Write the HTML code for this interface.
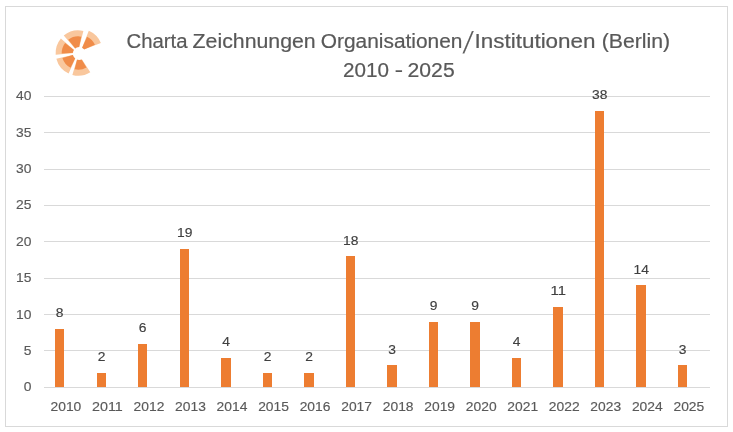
<!DOCTYPE html>
<html lang="de"><head><meta charset="utf-8"><title>Charta Zeichnungen</title>
<style>
html,body{margin:0;padding:0;background:#fff;}
body{width:733px;height:432px;overflow:hidden;}
svg{display:block;font-family:"Liberation Sans",sans-serif;}
.ax{fill:#595959;font-size:13px;stroke:#595959;stroke-width:.15px;}
.dl{fill:#404040;font-size:13px;stroke:#404040;stroke-width:.15px;}
.ti{fill:#595959;font-size:20px;stroke:#595959;stroke-width:.2px;}
.t2{fill:#595959;font-size:20.5px;stroke:#595959;stroke-width:.2px;}
</style></head><body>
<svg width="733" height="432" viewBox="0 0 733 432">
<rect x="0" y="0" width="733" height="432" fill="#ffffff"/>
<rect x="5.5" y="6.5" width="722" height="420" fill="none" stroke="#d9d9d9" stroke-width="1"/>

<line x1="44" x2="710" y1="387.5" y2="387.5" stroke="#d9d9d9" stroke-width="1"/>
<line x1="44" x2="710" y1="350.5" y2="350.5" stroke="#d9d9d9" stroke-width="1"/>
<line x1="44" x2="710" y1="314.5" y2="314.5" stroke="#d9d9d9" stroke-width="1"/>
<line x1="44" x2="710" y1="278.5" y2="278.5" stroke="#d9d9d9" stroke-width="1"/>
<line x1="44" x2="710" y1="241.5" y2="241.5" stroke="#d9d9d9" stroke-width="1"/>
<line x1="44" x2="710" y1="205.5" y2="205.5" stroke="#d9d9d9" stroke-width="1"/>
<line x1="44" x2="710" y1="169.5" y2="169.5" stroke="#d9d9d9" stroke-width="1"/>
<line x1="44" x2="710" y1="132.5" y2="132.5" stroke="#d9d9d9" stroke-width="1"/>
<line x1="44" x2="710" y1="96.5" y2="96.5" stroke="#d9d9d9" stroke-width="1"/>
<rect x="55" y="329" width="9" height="58" fill="#ed7d31" shape-rendering="crispEdges"/>
<rect x="97" y="373" width="9" height="14" fill="#ed7d31" shape-rendering="crispEdges"/>
<rect x="138" y="344" width="9" height="43" fill="#ed7d31" shape-rendering="crispEdges"/>
<rect x="180" y="249" width="9" height="138" fill="#ed7d31" shape-rendering="crispEdges"/>
<rect x="221" y="358" width="10" height="29" fill="#ed7d31" shape-rendering="crispEdges"/>
<rect x="263" y="373" width="9" height="14" fill="#ed7d31" shape-rendering="crispEdges"/>
<rect x="304" y="373" width="10" height="14" fill="#ed7d31" shape-rendering="crispEdges"/>
<rect x="346" y="256" width="9" height="131" fill="#ed7d31" shape-rendering="crispEdges"/>
<rect x="387" y="365" width="10" height="22" fill="#ed7d31" shape-rendering="crispEdges"/>
<rect x="429" y="322" width="9" height="65" fill="#ed7d31" shape-rendering="crispEdges"/>
<rect x="470" y="322" width="10" height="65" fill="#ed7d31" shape-rendering="crispEdges"/>
<rect x="512" y="358" width="9" height="29" fill="#ed7d31" shape-rendering="crispEdges"/>
<rect x="553" y="307" width="10" height="80" fill="#ed7d31" shape-rendering="crispEdges"/>
<rect x="595" y="111" width="9" height="276" fill="#ed7d31" shape-rendering="crispEdges"/>
<rect x="636" y="285" width="10" height="102" fill="#ed7d31" shape-rendering="crispEdges"/>
<rect x="678" y="365" width="9" height="22" fill="#ed7d31" shape-rendering="crispEdges"/>
<text class="ti" y="48.10"><tspan x="126.54" textLength="61.02" lengthAdjust="spacingAndGlyphs">Charta</tspan> <tspan x="192.60" textLength="123.12" lengthAdjust="spacingAndGlyphs">Zeichnungen</tspan> <tspan x="320.69" textLength="141.78" lengthAdjust="spacingAndGlyphs">Organisationen</tspan> <tspan x="474.47" textLength="121.13" lengthAdjust="spacingAndGlyphs">Institutionen</tspan> <tspan x="601.75" textLength="68.43" lengthAdjust="spacingAndGlyphs">(Berlin)</tspan></text>
<text class="t2" y="77.30"><tspan x="342.94" textLength="45.96" lengthAdjust="spacingAndGlyphs">2010</tspan> <tspan x="394.71" textLength="8.29" lengthAdjust="spacingAndGlyphs">-</tspan> <tspan x="407.57" textLength="47.09" lengthAdjust="spacingAndGlyphs">2025</tspan></text>
<text class="ax" x="23.70" y="391.00" textLength="7.70" lengthAdjust="spacingAndGlyphs">0</text>
<text class="ax" x="23.70" y="355.00" textLength="7.70" lengthAdjust="spacingAndGlyphs">5</text>
<text class="ax" x="16.00" y="319.00" textLength="15.40" lengthAdjust="spacingAndGlyphs">10</text>
<text class="ax" x="16.00" y="282.00" textLength="15.40" lengthAdjust="spacingAndGlyphs">15</text>
<text class="ax" x="16.00" y="246.00" textLength="15.40" lengthAdjust="spacingAndGlyphs">20</text>
<text class="ax" x="16.00" y="209.00" textLength="15.40" lengthAdjust="spacingAndGlyphs">25</text>
<text class="ax" x="16.00" y="173.00" textLength="15.40" lengthAdjust="spacingAndGlyphs">30</text>
<text class="ax" x="16.00" y="137.00" textLength="15.40" lengthAdjust="spacingAndGlyphs">35</text>
<text class="ax" x="16.00" y="100.00" textLength="15.40" lengthAdjust="spacingAndGlyphs">40</text>
<text class="ax" x="50.50" y="411.00" textLength="30.80" lengthAdjust="spacingAndGlyphs">2010</text>
<text class="dl" x="55.85" y="317.00" textLength="7.70" lengthAdjust="spacingAndGlyphs">8</text>
<text class="ax" x="92.03" y="411.00" textLength="30.80" lengthAdjust="spacingAndGlyphs">2011</text>
<text class="dl" x="97.85" y="361.00" textLength="7.70" lengthAdjust="spacingAndGlyphs">2</text>
<text class="ax" x="133.56" y="411.00" textLength="30.80" lengthAdjust="spacingAndGlyphs">2012</text>
<text class="dl" x="138.85" y="332.00" textLength="7.70" lengthAdjust="spacingAndGlyphs">6</text>
<text class="ax" x="175.09" y="411.00" textLength="30.80" lengthAdjust="spacingAndGlyphs">2013</text>
<text class="dl" x="177.00" y="237.00" textLength="15.40" lengthAdjust="spacingAndGlyphs">19</text>
<text class="ax" x="216.62" y="411.00" textLength="30.80" lengthAdjust="spacingAndGlyphs">2014</text>
<text class="dl" x="222.35" y="346.00" textLength="7.70" lengthAdjust="spacingAndGlyphs">4</text>
<text class="ax" x="258.15" y="411.00" textLength="30.80" lengthAdjust="spacingAndGlyphs">2015</text>
<text class="dl" x="263.85" y="361.00" textLength="7.70" lengthAdjust="spacingAndGlyphs">2</text>
<text class="ax" x="299.68" y="411.00" textLength="30.80" lengthAdjust="spacingAndGlyphs">2016</text>
<text class="dl" x="305.35" y="361.00" textLength="7.70" lengthAdjust="spacingAndGlyphs">2</text>
<text class="ax" x="341.21" y="411.00" textLength="30.80" lengthAdjust="spacingAndGlyphs">2017</text>
<text class="dl" x="343.00" y="245.00" textLength="15.40" lengthAdjust="spacingAndGlyphs">18</text>
<text class="ax" x="382.74" y="411.00" textLength="30.80" lengthAdjust="spacingAndGlyphs">2018</text>
<text class="dl" x="388.35" y="354.00" textLength="7.70" lengthAdjust="spacingAndGlyphs">3</text>
<text class="ax" x="424.27" y="411.00" textLength="30.80" lengthAdjust="spacingAndGlyphs">2019</text>
<text class="dl" x="429.85" y="310.00" textLength="7.70" lengthAdjust="spacingAndGlyphs">9</text>
<text class="ax" x="465.80" y="411.00" textLength="30.80" lengthAdjust="spacingAndGlyphs">2020</text>
<text class="dl" x="471.35" y="310.00" textLength="7.70" lengthAdjust="spacingAndGlyphs">9</text>
<text class="ax" x="507.33" y="411.00" textLength="30.80" lengthAdjust="spacingAndGlyphs">2021</text>
<text class="dl" x="512.85" y="346.00" textLength="7.70" lengthAdjust="spacingAndGlyphs">4</text>
<text class="ax" x="548.86" y="411.00" textLength="30.80" lengthAdjust="spacingAndGlyphs">2022</text>
<text class="dl" x="550.50" y="295.00" textLength="15.40" lengthAdjust="spacingAndGlyphs">11</text>
<text class="ax" x="590.39" y="411.00" textLength="30.80" lengthAdjust="spacingAndGlyphs">2023</text>
<text class="dl" x="592.00" y="99.00" textLength="15.40" lengthAdjust="spacingAndGlyphs">38</text>
<text class="ax" x="631.92" y="411.00" textLength="30.80" lengthAdjust="spacingAndGlyphs">2024</text>
<text class="dl" x="633.50" y="274.00" textLength="15.40" lengthAdjust="spacingAndGlyphs">14</text>
<text class="ax" x="673.45" y="411.00" textLength="30.80" lengthAdjust="spacingAndGlyphs">2025</text>
<text class="dl" x="678.85" y="354.00" textLength="7.70" lengthAdjust="spacingAndGlyphs">3</text>
<text class="ti" x="468.25" y="49.25" text-anchor="middle" transform="translate(468.25,42.1) skewX(-13.6) scale(1,1.5) translate(-468.25,-42.1)">/</text>
<defs><filter id="bl" x="-20%" y="-20%" width="140%" height="140%"><feGaussianBlur stdDeviation="0.6"/></filter></defs>
<g filter="url(#bl)">
<path d="M83.43,49.76L100.87,42.94A22.7,22.7 0 0 0 88.80,30.76L81.83,48.14A4.0,4.0 0 0 1 83.43,49.76Z" fill="#f9c79d"/>
<path d="M83.36,49.64L94.95,44.63A16.6,16.6 0 0 0 87.06,36.67L81.95,48.21A4.0,4.0 0 0 1 83.36,49.64Z" fill="#f08c48"/>
<path d="M78.81,49.03L83.39,30.88A22.7,22.7 0 0 0 63.73,35.60L76.05,49.69A4.0,4.0 0 0 1 78.81,49.03Z" fill="#f9c79d"/>
<path d="M78.67,49.02L81.33,36.68A16.6,16.6 0 0 0 68.19,39.83L76.17,49.62A4.0,4.0 0 0 1 78.67,49.02Z" fill="#f08c48"/>
<path d="M74.99,50.75L60.90,38.43A22.7,22.7 0 0 0 55.67,54.80L74.30,52.92A4.0,4.0 0 0 1 74.99,50.75Z" fill="#f9c79d"/>
<path d="M74.92,50.87L65.13,42.89A16.6,16.6 0 0 0 61.71,53.61L74.31,52.78A4.0,4.0 0 0 1 74.92,50.87Z" fill="#f08c48"/>
<path d="M74.55,54.39L56.34,58.74A22.7,22.7 0 0 0 68.62,73.53L76.24,56.43A4.0,4.0 0 0 1 74.55,54.39Z" fill="#f9c79d"/>
<path d="M74.60,54.52L62.43,57.88A16.6,16.6 0 0 0 70.58,67.70L76.12,56.36A4.0,4.0 0 0 1 74.60,54.52Z" fill="#f08c48"/>
<path d="M77.64,56.95L72.37,74.91A22.7,22.7 0 0 0 90.31,72.26L80.07,56.59A4.0,4.0 0 0 1 77.64,56.95Z" fill="#f9c79d"/>
<path d="M77.78,56.97L74.65,69.19A16.6,16.6 0 0 0 86.47,67.45L79.94,56.65A4.0,4.0 0 0 1 77.78,56.97Z" fill="#f08c48"/>
<circle cx="79.2" cy="53.5" r="6.4" fill="#fff"/>
</g>
</svg></body></html>
